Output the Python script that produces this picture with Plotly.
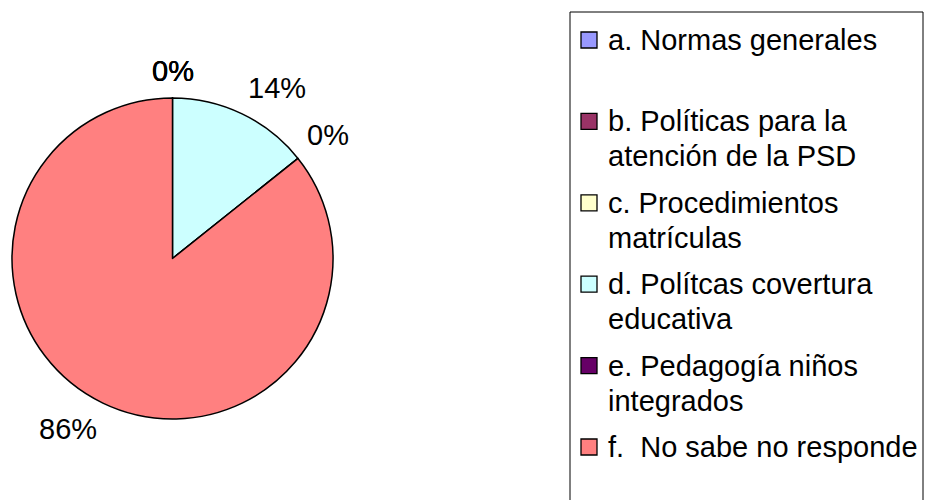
import math
import plotly.graph_objects as go

# ---- data ----
categories = [
    "a. Normas generales",
    "b. Políticas para la atención de la PSD",
    "c. Procedimientos matrículas",
    "d. Polítcas covertura educativa",
    "e. Pedagogía niños integrados",
    "f.  No sabe no responde",
]
legend_lines = [
    ["a. Normas generales"],
    ["b. Políticas para la", "atención de la PSD"],
    ["c. Procedimientos", "matrículas"],
    ["d. Polítcas covertura", "educativa"],
    ["e. Pedagogía niños", "integrados"],
    ["f.  No sabe no responde"],
]
values = [0, 0, 0, 1, 0, 6]
colors = ["#9999FF", "#993366", "#FFFFCC", "#CCFFFF", "#660066", "#FF8080"]

# ---- layout constants (pixels) ----
W, H = 925, 500
FONT = "Liberation Sans, Arial, sans-serif"
FS = 29
CX, CY, R = 172.5, 258.5, 160.5

def px(x):
    return x / W

def py(y):
    return 1 - y / H

fig = go.Figure()
fig.add_trace(go.Pie(
    labels=categories,
    values=values,
    sort=False,
    direction="clockwise",
    rotation=0,
    marker=dict(colors=colors, line=dict(color="black", width=1.5)),
    textinfo="none",
    hoverinfo="label+percent",
    showlegend=False,
    domain=dict(x=[px(CX - R), px(CX + R)], y=[py(CY + R), py(CY - R)]),
))

annotations = []
shapes = []

# percentage labels: nearest corner of each label sits on the slice's mid-angle ray
total = sum(values)
cum = 0
for v in values:
    mid = (cum + v / 2) / total
    cum += v
    pct = round(100 * v / total)
    txt = f"{pct}%"
    th = 2 * math.pi * mid
    ux, uy = math.sin(th), -math.cos(th)
    d = R + 9
    xa = "center" if abs(ux) < 0.05 else ("left" if ux > 0 else "right")
    ya = "middle" if abs(uy) < 0.05 else ("bottom" if uy < 0 else "top")
    annotations.append(dict(
        x=px(CX + d * ux), y=py(CY + d * uy), xref="paper", yref="paper",
        text=txt, showarrow=False, xanchor=xa, yanchor=ya,
        font=dict(family=FONT, size=FS, color="black"),
    ))

# legend box
shapes.append(dict(type="rect", xref="paper", yref="paper",
                   x0=px(570), x1=px(923), y0=py(512), y1=py(12),
                   line=dict(color="black", width=1), fillcolor="rgba(0,0,0,0)"))
start, step, lh = 40, 81.4, 35
for i, (lines, col) in enumerate(zip(legend_lines, colors)):
    y0 = start + i * step
    shapes.append(dict(type="rect", xref="paper", yref="paper",
                       x0=px(581), x1=px(597), y0=py(y0 + 8), y1=py(y0 - 8),
                       line=dict(color="black", width=1.3), fillcolor=col))
    for j, ln in enumerate(lines):
        annotations.append(dict(
            x=px(606), y=py(y0 + j * lh), xref="paper", yref="paper",
            text=ln, showarrow=False, xanchor="left", yanchor="middle",
            font=dict(family=FONT, size=FS, color="black"),
        ))

fig.update_layout(
    width=W, height=H,
    margin=dict(l=0, r=0, t=0, b=0),
    paper_bgcolor="white", plot_bgcolor="white",
    annotations=annotations, shapes=shapes,
    showlegend=False,
)
fig.write_html("out.html", config={"displayModeBar": False},
               post_script="document.body.style.margin='0';")
